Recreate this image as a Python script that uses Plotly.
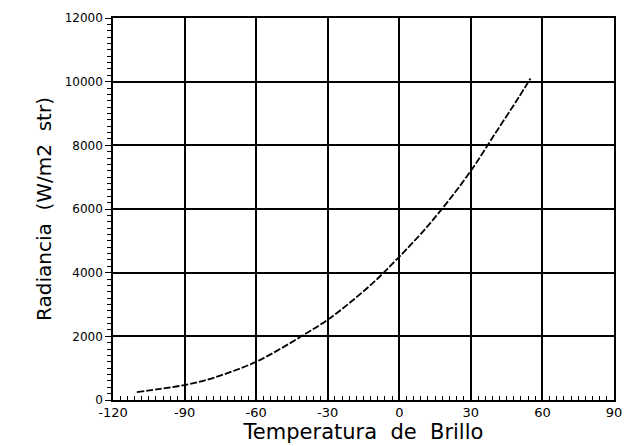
import plotly.graph_objects as go

temperatura = [-110, -100, -90, -80, -70, -60, -50, -40, -30, -20, -10, 0, 10, 20, 30, 40, 50, 55]
radiancia = [250, 350, 470, 650, 900, 1200, 1600, 2050, 2520, 3100, 3750, 4500, 5300, 6200, 7200, 8350, 9500, 10100]

x_ticks = [-120, -90, -60, -30, 0, 30, 60, 90]
y_ticks = [0, 2000, 4000, 6000, 8000, 10000, 12000]

fig = go.Figure()
fig.add_trace(go.Scatter(
    x=temperatura, y=radiancia, mode="lines",
    line=dict(color="black", width=1.8, dash="7px,2px", shape="spline"),
    showlegend=False, hoverinfo="skip"))

font = "DejaVu Sans"
fig.update_layout(
    width=624, height=446,
    margin=dict(l=113, r=10, t=18, b=46, autoexpand=False),
    paper_bgcolor="white", plot_bgcolor="white",
    font=dict(family=font, color="black"),
    xaxis=dict(
        range=[-120, 90], tickvals=x_ticks, ticktext=[str(v) for v in x_ticks],
        showgrid=True, gridcolor="black", gridwidth=1.5,
        showline=True, linecolor="black", linewidth=1.5, mirror=True,
        ticks="inside", ticklen=5, tickcolor="black", tickwidth=1.2,
        minor=dict(dtick=3, ticks="inside", ticklen=4, tickcolor="black", tickwidth=1, showgrid=False),
        tickfont=dict(size=13, family=font), zeroline=False, automargin=False,
        title=dict(text="Temperatura  de  Brillo", font=dict(size=21, family=font), standoff=0),
    ),
    yaxis=dict(
        range=[0, 12000], tickvals=y_ticks, ticktext=[str(v) for v in y_ticks],
        showgrid=True, gridcolor="black", gridwidth=1.5,
        showline=True, linecolor="black", linewidth=1.5, mirror=True,
        ticks="outside", ticklen=6, tickcolor="black", tickwidth=1.2,
        minor=dict(dtick=200, ticks="outside", ticklen=4, tickcolor="black", tickwidth=1, showgrid=False),
        tickfont=dict(size=12, family=font), zeroline=False, automargin=False,
        title=dict(text="Radiancia  (W/m2  str)", font=dict(size=20, family=font), standoff=8),
    ),
)

fig.write_html("out.html", config={"displayModeBar": False},
               post_script="document.body.style.margin='0';")
